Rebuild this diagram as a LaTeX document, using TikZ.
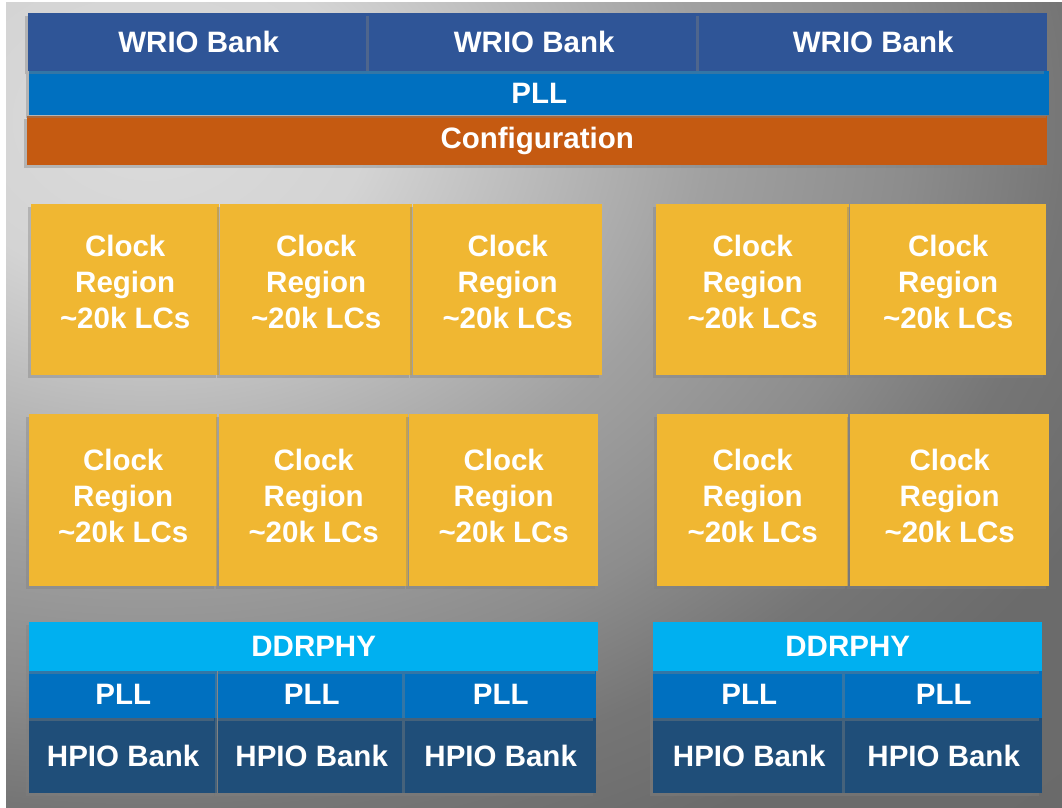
\documentclass[tikz,border=0pt]{standalone}
\usepackage{fontspec}
\setmainfont{Liberation Sans}
\usetikzlibrary{shadows}
\definecolor{wrio}{HTML}{2F5597}
\definecolor{pllblue}{HTML}{0070C0}
\definecolor{config}{HTML}{C55A11}
\definecolor{clkreg}{HTML}{F0B732}
\definecolor{ddrphy}{HTML}{00B0F0}
\definecolor{hpio}{HTML}{1F4E79}
\pgfdeclareradialshading{bggrey}{\pgfpoint{0bp}{0bp}}{rgb(0bp)=(0.86,0.86,0.86); rgb(5.5bp)=(0.83,0.83,0.83); rgb(11bp)=(0.70,0.70,0.70); rgb(14bp)=(0.63,0.63,0.63); rgb(19bp)=(0.55,0.55,0.55); rgb(23bp)=(0.46,0.46,0.46); rgb(27bp)=(0.42,0.42,0.42); rgb(65bp)=(0.40,0.40,0.40)}

\begin{document}
\begin{tikzpicture}[x=1pt,y=-1pt]
              \tikzstyle{every node}+=[inner sep=0pt]
              \tikzstyle{txt}=[text=white, align=center, font=\bfseries\fontsize{29.5}{36}\selectfont]
              \tikzstyle{blk}=[anchor=north west, txt, drop shadow={shadow xshift=-3pt, shadow yshift=-3pt, opacity=0.4}]
              \tikzset{clk/.style={blk, fill=clkreg, label={[txt, yshift=#1]center:Clock\\Region\\\textasciitilde20k LCs}}}
              \useasboundingbox (0,0) rectangle (1062,807);
              \begin{scope}
                \clip (6,2) rectangle (1062,807);
                \shade [shading=bggrey] (-850,-630) rectangle (1150,870);
              \end{scope}
              % lower left I/O group
              \node [blk, fill=hpio, minimum width=188, minimum height=75] (hpioA) at (29,718) {HPIO Bank};
              \node [blk, fill=hpio, minimum width=187, minimum height=75] (hpioB) at (218,718) {HPIO Bank};
              \node [blk, fill=hpio, minimum width=191, minimum height=75] (hpioC) at (405,718) {HPIO Bank};
              \node [blk, fill=pllblue, minimum width=188, minimum height=47] (pllA) at (29,671) {PLL};
              \node [blk, fill=pllblue, minimum width=187, minimum height=47] (pllB) at (218,671) {PLL};
              \node [blk, fill=pllblue, minimum width=191, minimum height=47] (pllC) at (405,671) {PLL};
              \node [blk, fill=ddrphy, minimum width=569, minimum height=49] (ddrA) at (29,622) {DDRPHY};
              % lower right I/O group
              \node [blk, fill=hpio, minimum width=192, minimum height=75] (hpioD) at (653,718) {HPIO Bank};
              \node [blk, fill=hpio, minimum width=197, minimum height=75] (hpioE) at (845,718) {HPIO Bank};
              \node [blk, fill=pllblue, minimum width=192, minimum height=47] (pllD) at (653,671) {PLL};
              \node [blk, fill=pllblue, minimum width=197, minimum height=47] (pllE) at (845,671) {PLL};
              \node [blk, fill=ddrphy, minimum width=389, minimum height=49] (ddrB) at (653,622) {DDRPHY};
              % clock regions, second row
              \node [clk=4pt, minimum width=188, minimum height=172] (crF) at (29,414) {};
              \node [clk=4pt, minimum width=189, minimum height=172] (crG) at (219,414) {};
              \node [clk=4pt, minimum width=189, minimum height=172] (crH) at (409,414) {};
              \node [clk=4pt, minimum width=191, minimum height=172] (crI) at (657,414) {};
              \node [clk=4pt, minimum width=199, minimum height=172] (crJ) at (850,414) {};
              % clock regions, first row
              \node [clk=8pt, minimum width=188, minimum height=171] (crA) at (31,204) {};
              \node [clk=8pt, minimum width=192, minimum height=171] (crB) at (220,204) {};
              \node [clk=8pt, minimum width=189, minimum height=171] (crC) at (413,204) {};
              \node [clk=8pt, minimum width=193, minimum height=171] (crD) at (656,204) {};
              \node [clk=8pt, minimum width=196, minimum height=171] (crE) at (850,204) {};
              % top bars
              \node [blk, fill=config, minimum width=1020, minimum height=49] (conf) at (27,116) {Configuration};
              \node [blk, fill=pllblue, minimum width=1020, minimum height=44] (pllTop) at (29,71) {PLL};
              \node [blk, fill=wrio, minimum width=341, minimum height=58] (wrioA) at (28,13) {WRIO Bank};
              \node [blk, fill=wrio, minimum width=330, minimum height=58] (wrioB) at (369,13) {WRIO Bank};
              \node [blk, fill=wrio, minimum width=348, minimum height=58] (wrioC) at (699,13) {WRIO Bank};
            \end{tikzpicture}
\end{document}
